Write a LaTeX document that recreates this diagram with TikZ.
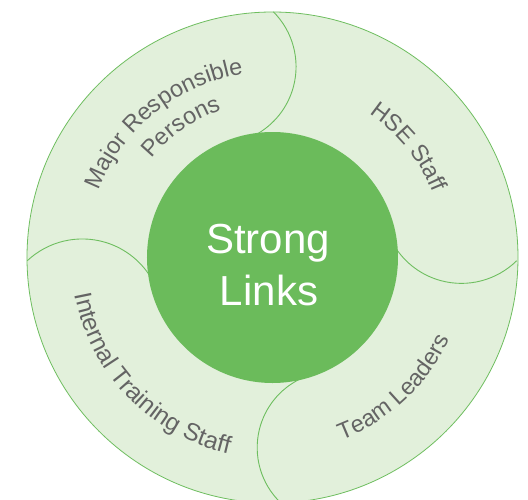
\documentclass[tikz,border=0pt]{standalone}
\usepackage{fontspec}
\setmainfont{Liberation Sans}
\newfontfamily\labfont{Liberation Sans}
\usetikzlibrary{decorations.text}
\definecolor{ringfill}{RGB}{226,240,219}
\definecolor{linegreen}{RGB}{110,190,95}
\definecolor{coregreen}{RGB}{107,187,91}
\definecolor{labgray}{RGB}{100,100,100}
\tikzset{
  ringdisc/.style={circle, minimum size=491pt, inner sep=0pt, draw=linegreen, fill=ringfill, line width=0.8pt},
  coredisc/.style={circle, minimum size=251pt, inner sep=0pt, fill=coregreen},
  divider/.style={draw=linegreen, line width=0.9pt},
  maintext/.style={anchor=base, text=white, inner sep=0pt, font=\fontsize{42}{50}\selectfont},
  curvedlabel/.style 2 args={decorate, decoration={text along path, text align=center, text color=labgray, text={|\labfont\fontsize{#1}{#1}\selectfont|#2}}}
}
\begin{document}
\begin{tikzpicture}[x=1pt,y=1pt]
\useasboundingbox (-272.5,-241.5) rectangle (255.5,257.5);
\clip (-272.5,-241.5) rectangle (255.5,257.5);
\fill[white] (-272.5,-241.5) rectangle (255.5,257.5);
\node[ringdisc] (ring) at (0,0) {};
% dividing curves
\draw[divider] (-54.11,190.85) ++(45:77.68) arc[start angle=45, end angle=-62, radius=77.68];
\draw[divider] (188.92,52.86) ++(-45.4:78.74) arc[start angle=-45.4, end angle=-147, radius=78.74];
\draw[divider] (61.09,-190.15) ++(226.3:76.41) arc[start angle=226.3, end angle=116, radius=76.41];
\draw[divider] (-190.23,-61.80) ++(133.2:80.35) arc[start angle=133.2, end angle=29, radius=80.35];
\node[coredisc] (core) at (0,0) {};
\node[maintext] (strong) at (-4.5,4.2) {Strong};
\node[maintext] (links) at (-3.5,-47.5) {Links};
% curved labels
\path[curvedlabel={23.5}{Major Responsible}] (170:186) arc[start angle=170, end angle=88, radius=186];
\path[curvedlabel={23.5}{Persons}] (160:156) arc[start angle=160, end angle=90, radius=156];
\path[curvedlabel={23.5}{HSE Staff}] (75:173) arc[start angle=75, end angle=3, radius=173];
\path[curvedlabel={23.5}{Team Leaders}] (-85:195) arc[start angle=-85, end angle=-9, radius=195];
\path[curvedlabel={24.5}{Internal Training Staff}] (180:201) arc[start angle=180, end angle=268, radius=201];
\end{tikzpicture}
\end{document}
